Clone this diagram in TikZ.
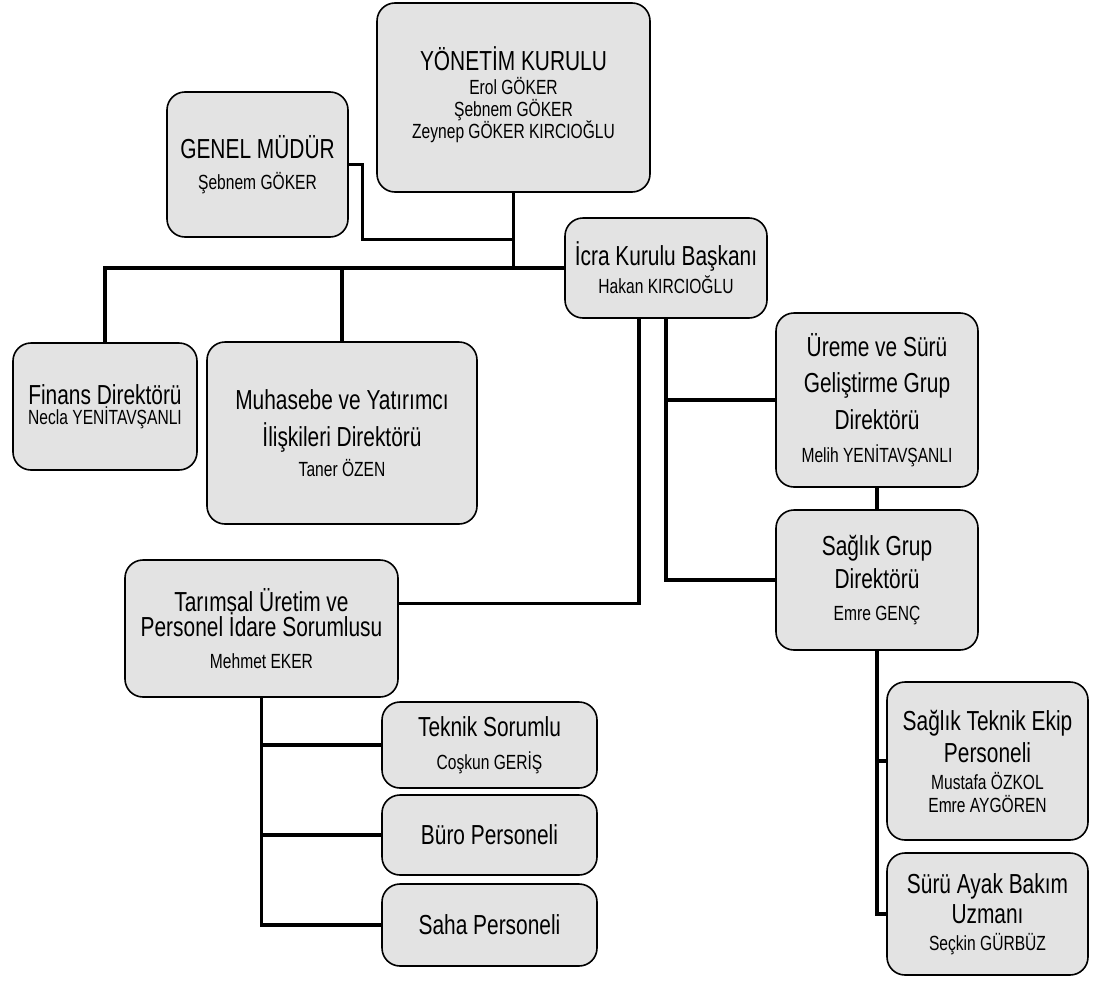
\documentclass[tikz,border=0pt]{standalone}
\usepackage{fontspec}
\setmainfont{Liberation Sans}[FakeStretch=0.76]
\newcommand{\unvan}[1]{{\fontsize{27.5}{23}\selectfont #1}}
\lineskiplimit=-100pt
\begin{document}
\begin{tikzpicture}[x=1pt, y=-1pt,
    birim/.style={draw, line width=1.6pt, rounded corners=18pt, fill=black!11, align=center, inner sep=0pt,
      font=\fontsize{20.5}{23}\selectfont},
    hat/.style={line width=3.2pt}]
    \useasboundingbox (0,0) rectangle (1102,985);
    % ust kisim
    \node[birim, minimum width=273pt, minimum height=189pt] (yk) at (513.5,97.5)
        {\unvan{YÖNETİM KURULU}\\[1pt] Erol GÖKER\\[-1pt] Şebnem GÖKER\\[-1pt] Zeynep GÖKER KIRCIOĞLU\\[-14pt] {}};
    \node[birim, minimum width=181pt, minimum height=145pt] (gm) at (257.5,164.5)
        {\unvan{GENEL MÜDÜR}\\[8pt] Şebnem GÖKER};
    \node[birim, minimum width=202pt, minimum height=100pt] (icra) at (666,268)
        {\unvan{İcra Kurulu Başkanı}\\[5pt] Hakan KIRCIOĞLU};
    \node[birim, minimum width=184pt, minimum height=127pt] (finans) at (105,406.5)
        {\unvan{Finans Direktörü}\\[-3pt] Necla YENİTAVŞANLI};
    \node[birim, minimum width=270pt, minimum height=182pt] (muh) at (342,433)
        {\unvan{Muhasebe ve Yatırımcı}\\[14pt] \unvan{İlişkileri Direktörü}\\[7pt] Taner ÖZEN};
    % sag kol
    \node[birim, minimum width=202pt, minimum height=174pt] (ureme) at (877,400)
        {\unvan{Üreme ve Sürü}\\[13pt] \unvan{Geliştirme Grup}\\[14pt] \unvan{Direktörü}\\[10pt] Melih YENİTAVŞANLI};
    \node[birim, minimum width=202pt, minimum height=140pt] (saglik) at (877,580)
        {\unvan{Sağlık Grup}\\[10pt] \unvan{Direktörü}\\[9pt] Emre GENÇ};
    \node[birim, minimum width=201pt, minimum height=158pt] (ekip) at (987.5,761)
        {\unvan{Sağlık Teknik Ekip}\\[9pt] \unvan{Personeli}\\[4pt] Mustafa ÖZKOL\\ Emre AYGÖREN};
    \node[birim, minimum width=201pt, minimum height=122pt] (ayak) at (987.5,914)
        {\unvan{Sürü Ayak Bakım}\\[7pt] \unvan{Uzmanı}\\[4pt] Seçkin GÜRBÜZ};
    % sol alt kol
    \node[birim, minimum width=273pt, minimum height=137pt] (tarim) at (261.5,628.5)
        {\unvan{Tarımsal Üretim ve}\\[2pt] \unvan{Personel İdare Sorumlusu}\\[9pt] Mehmet EKER};
    \node[birim, minimum width=215pt, minimum height=86pt] (teknik) at (489.5,745)
        {\unvan{Teknik Sorumlu}\\[10pt] Coşkun GERİŞ};
    \node[birim, minimum width=215pt, minimum height=80pt] (buro) at (489.5,835)
        {\unvan{Büro Personeli}};
    \node[birim, minimum width=215pt, minimum height=82pt] (saha) at (489.5,925)
        {\unvan{Saha Personeli}};
    % baglantilar
    \draw[hat] (gm.east) -| ++(14,75) -| (yk.south);
    \draw[hat] (yk.south) -- (yk.south |- icra.west);
    \draw[hat] (finans.north) |- (icra.west);
    \draw[hat] (muh.north) -- (muh.north |- icra.west);
    \draw[hat] (icra.south) |- (saglik.west);
    \draw[hat] (icra.south |- ureme.west) -- (ureme.west);
    \draw[hat] ([xshift=-27pt]icra.south) |- ([yshift=25pt]tarim.east);
    \draw[hat] (ureme.south) -- (saglik.north);
    \draw[hat] (saglik.south) |- (ayak.west);
    \draw[hat] (saglik.south |- ekip.west) -- (ekip.west);
    \draw[hat] (tarim.south) |- (saha.west);
    \draw[hat] (tarim.south |- teknik.west) -- (teknik.west);
    \draw[hat] (tarim.south |- buro.west) -- (buro.west);
\end{tikzpicture}
\end{document}
